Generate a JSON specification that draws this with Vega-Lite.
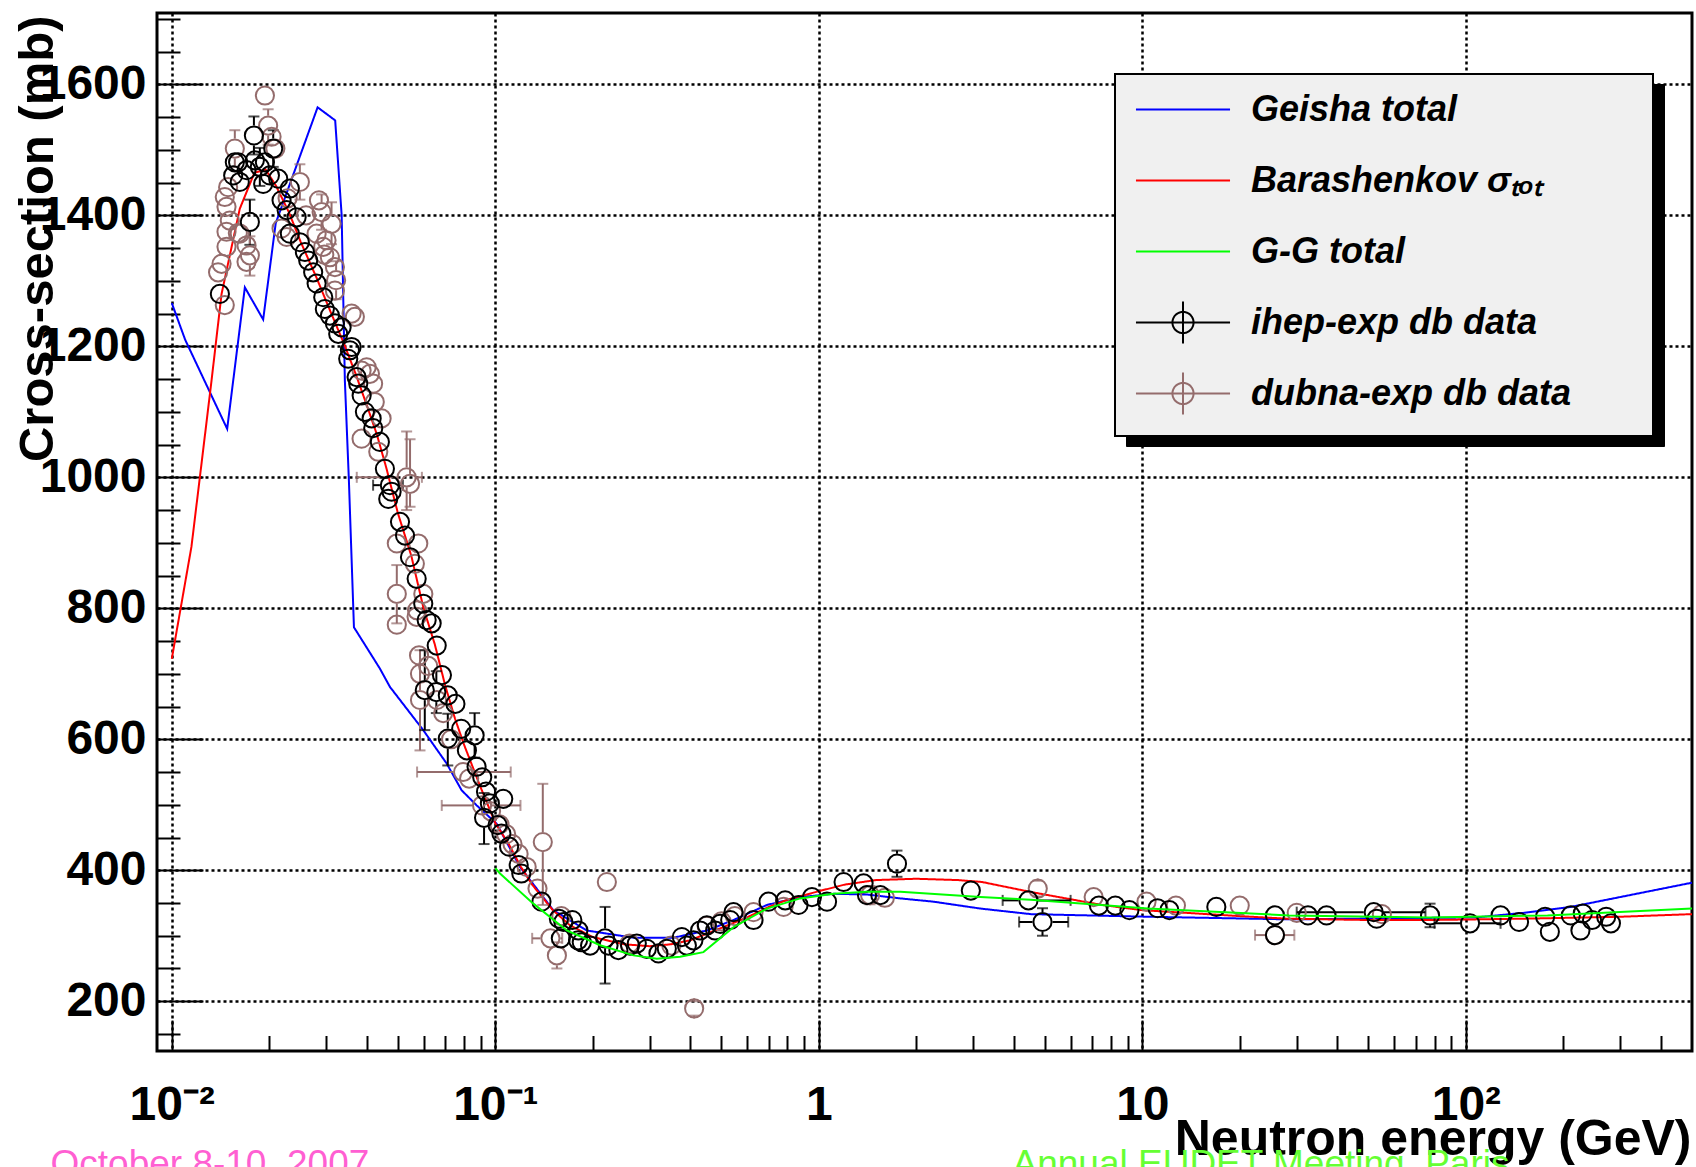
{
  "$schema": "https://vega.github.io/schema/vega-lite/v6.json",
  "width": 1535,
  "height": 1038,
  "autosize": {"type": "none"},
  "padding": {"left": 157, "top": 13, "right": 4, "bottom": 116},
  "config": {
    "view": {"stroke": "#000000", "strokeWidth": 3},
    "font": "Liberation Sans"
  },
  "datasets": {
    "curves": [
      {"s":"geisha","e":0.01,"v":1266},{"s":"geisha","e":0.011,"v":1210},{"s":"geisha","e":0.01483,"v":1074},{"s":"geisha","e":0.01682,"v":1290},{"s":"geisha","e":0.01916,"v":1241},{"s":"geisha","e":0.02095,"v":1388},{"s":"geisha","e":0.02823,"v":1565},{"s":"geisha","e":0.03199,"v":1545},{"s":"geisha","e":0.0335,"v":1400},{"s":"geisha","e":0.03427,"v":1148},{"s":"geisha","e":0.03527,"v":995},{"s":"geisha","e":0.03656,"v":771},{"s":"geisha","e":0.04397,"v":708},{"s":"geisha","e":0.04723,"v":680},{"s":"geisha","e":0.05987,"v":614},{"s":"geisha","e":0.07073,"v":563},{"s":"geisha","e":0.0787,"v":522},{"s":"geisha","e":0.0876,"v":499},{"s":"geisha","e":0.101,"v":471},{"s":"geisha","e":0.1192,"v":405},{"s":"geisha","e":0.1511,"v":339},{"s":"geisha","e":0.1918,"v":308},{"s":"geisha","e":0.2673,"v":297},{"s":"geisha","e":0.3553,"v":297},{"s":"geisha","e":0.4507,"v":308},{"s":"geisha","e":0.5447,"v":324},{"s":"geisha","e":0.6911,"v":347},{"s":"geisha","e":0.8759,"v":359},{"s":"geisha","e":1.11,"v":364},{"s":"geisha","e":1.409,"v":363},{"s":"geisha","e":1.786,"v":357},{"s":"geisha","e":2.264,"v":352},{"s":"geisha","e":3.157,"v":341.5},{"s":"geisha","e":4.52,"v":333},{"s":"geisha","e":10.4,"v":329},{"s":"geisha","e":28.4,"v":325},{"s":"geisha","e":108,"v":328},{"s":"geisha","e":151,"v":335},{"s":"geisha","e":211,"v":344},{"s":"geisha","e":500,"v":381},
      {"s":"bar","e":0.01,"v":723},{"s":"bar","e":0.0115,"v":894},{"s":"bar","e":0.01221,"v":1000},{"s":"bar","e":0.01327,"v":1148},{"s":"bar","e":0.01425,"v":1280},{"s":"bar","e":0.01622,"v":1410},{"s":"bar","e":0.018,"v":1465},{"s":"bar","e":0.0195,"v":1470},{"s":"bar","e":0.021,"v":1445},{"s":"bar","e":0.023,"v":1405},{"s":"bar","e":0.025,"v":1360},{"s":"bar","e":0.028,"v":1305},{"s":"bar","e":0.031,"v":1252},{"s":"bar","e":0.034,"v":1205},{"s":"bar","e":0.037,"v":1158},{"s":"bar","e":0.04,"v":1111},{"s":"bar","e":0.043,"v":1066},{"s":"bar","e":0.046,"v":1015},{"s":"bar","e":0.05,"v":945},{"s":"bar","e":0.055,"v":880},{"s":"bar","e":0.06,"v":800},{"s":"bar","e":0.065,"v":745},{"s":"bar","e":0.07,"v":682},{"s":"bar","e":0.075,"v":632},{"s":"bar","e":0.08,"v":592},{"s":"bar","e":0.09,"v":527},{"s":"bar","e":0.1,"v":472},{"s":"bar","e":0.11,"v":440},{"s":"bar","e":0.12,"v":405},{"s":"bar","e":0.13,"v":378},{"s":"bar","e":0.15,"v":340},{"s":"bar","e":0.17,"v":316},{"s":"bar","e":0.2,"v":298},{"s":"bar","e":0.25,"v":287},{"s":"bar","e":0.3,"v":284},{"s":"bar","e":0.35,"v":287},{"s":"bar","e":0.4,"v":293},{"s":"bar","e":0.5,"v":312},{"s":"bar","e":0.6,"v":328},{"s":"bar","e":0.7,"v":344},{"s":"bar","e":0.8,"v":355},{"s":"bar","e":1.0,"v":368},{"s":"bar","e":1.2,"v":378},{"s":"bar","e":1.5,"v":385},{"s":"bar","e":2.0,"v":387},{"s":"bar","e":2.7,"v":385},{"s":"bar","e":3.2,"v":382},{"s":"bar","e":4.5,"v":367},{"s":"bar","e":7.5,"v":347},{"s":"bar","e":10,"v":339},{"s":"bar","e":20,"v":330},{"s":"bar","e":28,"v":326},{"s":"bar","e":50,"v":324},{"s":"bar","e":77,"v":324},{"s":"bar","e":150,"v":326},{"s":"bar","e":300,"v":329},{"s":"bar","e":500,"v":333},
      {"s":"gg","e":0.1,"v":403},{"s":"gg","e":0.1034,"v":395},{"s":"gg","e":0.1311,"v":349},{"s":"gg","e":0.1663,"v":308},{"s":"gg","e":0.2108,"v":285.5},{"s":"gg","e":0.2673,"v":270},{"s":"gg","e":0.3157,"v":265},{"s":"gg","e":0.3726,"v":268},{"s":"gg","e":0.4398,"v":275},{"s":"gg","e":0.5447,"v":313},{"s":"gg","e":0.6911,"v":341.5},{"s":"gg","e":0.876,"v":357},{"s":"gg","e":1.11,"v":364},{"s":"gg","e":1.409,"v":367},{"s":"gg","e":1.786,"v":367},{"s":"gg","e":3.157,"v":359},{"s":"gg","e":4.52,"v":355},{"s":"gg","e":10.4,"v":341.5},{"s":"gg","e":28.4,"v":331},{"s":"gg","e":77.5,"v":328},{"s":"gg","e":178.8,"v":331},{"s":"gg","e":500,"v":341.5}
    ],
    "points": [
      {"s":"dubna","e":0.0139,"v":1313},{"s":"dubna","e":0.01425,"v":1326},{"s":"dubna","e":0.01458,"v":1263},{"s":"dubna","e":0.01476,"v":1352},{"s":"dubna","e":0.01476,"v":1375},{"s":"dubna","e":0.01511,"v":1392},{"s":"dubna","e":0.01476,"v":1413},{"s":"dubna","e":0.01458,"v":1428},{"s":"dubna","e":0.01493,"v":1443},
      {"s":"dubna","e":0.01566,"v":1502,"vlo":1474,"vhi":1530},{"s":"dubna","e":0.016,"v":1373},{"s":"dubna","e":0.01622,"v":1372},{"s":"dubna","e":0.01702,"v":1354},{"s":"dubna","e":0.01743,"v":1339,"vlo":1308,"vhi":1368},{"s":"dubna","e":0.01702,"v":1329},
      {"s":"dubna","e":0.0194,"v":1583},{"s":"dubna","e":0.01985,"v":1537,"vlo":1508,"vhi":1562},{"s":"dubna","e":0.02034,"v":1520},{"s":"dubna","e":0.0209,"v":1502},{"s":"dubna","e":0.0228,"v":1426},{"s":"dubna","e":0.02184,"v":1380},{"s":"dubna","e":0.02264,"v":1367},
      {"s":"dubna","e":0.02488,"v":1451,"vlo":1424,"vhi":1478},{"s":"dubna","e":0.026,"v":1400},{"s":"dubna","e":0.0285,"v":1423},{"s":"dubna","e":0.02904,"v":1405,"vlo":1378,"vhi":1432},{"s":"dubna","e":0.03117,"v":1387,"vlo":1356,"vhi":1420},{"s":"dubna","e":0.02803,"v":1372},{"s":"dubna","e":0.03008,"v":1362},{"s":"dubna","e":0.02938,"v":1352},{"s":"dubna","e":0.0296,"v":1340},{"s":"dubna","e":0.0308,"v":1336},{"s":"dubna","e":0.03193,"v":1321},{"s":"dubna","e":0.0322,"v":1301,"vlo":1272,"vhi":1330},{"s":"dubna","e":0.03193,"v":1285},
      {"s":"dubna","e":0.03596,"v":1250},{"s":"dubna","e":0.0368,"v":1245},{"s":"dubna","e":0.0386,"v":1163},{"s":"dubna","e":0.04096,"v":1158},{"s":"dubna","e":0.04002,"v":1168},{"s":"dubna","e":0.0419,"v":1143},{"s":"dubna","e":0.0424,"v":1115},{"s":"dubna","e":0.04451,"v":1090},{"s":"dubna","e":0.0386,"v":1059},{"s":"dubna","e":0.04347,"v":1039},
      {"s":"dubna","e":0.0532,"v":1000,"vlo":950,"vhi":1070,"elo":0.0373,"ehi":0.0593},{"s":"dubna","e":0.0545,"v":990,"vlo":955,"vhi":1058},{"s":"dubna","e":0.0496,"v":899},{"s":"dubna","e":0.05779,"v":899},{"s":"dubna","e":0.0564,"v":868},{"s":"dubna","e":0.0496,"v":822,"vlo":777,"vhi":866},{"s":"dubna","e":0.0599,"v":822},{"s":"dubna","e":0.0571,"v":787},{"s":"dubna","e":0.0496,"v":775},{"s":"dubna","e":0.05729,"v":797},{"s":"dubna","e":0.0581,"v":728},{"s":"dubna","e":0.0585,"v":700},{"s":"dubna","e":0.0585,"v":660,"vlo":583,"vhi":736},
      {"s":"dubna","e":0.062,"v":712},{"s":"dubna","e":0.066,"v":660},{"s":"dubna","e":0.069,"v":640},{"s":"dubna","e":0.073,"v":600},{"s":"dubna","e":0.0795,"v":550,"elo":0.0573,"ehi":0.1116},{"s":"dubna","e":0.083,"v":540},{"s":"dubna","e":0.091,"v":499,"elo":0.0683,"ehi":0.1196},{"s":"dubna","e":0.097,"v":490},{"s":"dubna","e":0.103,"v":470},{"s":"dubna","e":0.108,"v":455},{"s":"dubna","e":0.113,"v":440},{"s":"dubna","e":0.118,"v":425},{"s":"dubna","e":0.125,"v":405},
      {"s":"dubna","e":0.1402,"v":443,"vlo":347,"vhi":532},{"s":"dubna","e":0.135,"v":372},{"s":"dubna","e":0.148,"v":296,"elo":0.13,"ehi":0.161},{"s":"dubna","e":0.155,"v":270,"vlo":250,"vhi":290},{"s":"dubna","e":0.16,"v":330},{"s":"dubna","e":0.2212,"v":382},{"s":"dubna","e":0.4117,"v":189,"vlo":178,"vhi":200},{"s":"dubna","e":0.26,"v":288},{"s":"dubna","e":0.35,"v":285},{"s":"dubna","e":0.45,"v":315},{"s":"dubna","e":0.5,"v":322},{"s":"dubna","e":0.55,"v":330},{"s":"dubna","e":0.628,"v":336},{"s":"dubna","e":0.778,"v":344},
      {"s":"dubna","e":1.44,"v":362,"vlo":348,"vhi":376},{"s":"dubna","e":1.6,"v":358},{"s":"dubna","e":4.75,"v":372,"vlo":360,"vhi":384},{"s":"dubna","e":7.07,"v":359},{"s":"dubna","e":10.3,"v":352},{"s":"dubna","e":12.7,"v":346},{"s":"dubna","e":20.0,"v":346},{"s":"dubna","e":25.7,"v":301,"elo":22.3,"ehi":29.5},{"s":"dubna","e":30,"v":335},{"s":"dubna","e":55,"v":333},
      {"s":"ihep","e":0.01408,"v":1280},{"s":"ihep","e":0.01548,"v":1461},{"s":"ihep","e":0.01566,"v":1481},{"s":"ihep","e":0.01603,"v":1481},{"s":"ihep","e":0.01622,"v":1451},{"s":"ihep","e":0.01702,"v":1469},{"s":"ihep","e":0.01743,"v":1390,"vlo":1355,"vhi":1424},{"s":"ihep","e":0.01794,"v":1522,"vlo":1493,"vhi":1551},{"s":"ihep","e":0.01806,"v":1484},{"s":"ihep","e":0.01871,"v":1474,"vlo":1445,"vhi":1503},{"s":"ihep","e":0.01916,"v":1448},{"s":"ihep","e":0.0194,"v":1481},{"s":"ihep","e":0.0201,"v":1461},{"s":"ihep","e":0.02058,"v":1502,"vlo":1474,"vhi":1530},{"s":"ihep","e":0.02132,"v":1456},{"s":"ihep","e":0.02184,"v":1423},{"s":"ihep","e":0.02264,"v":1408},{"s":"ihep","e":0.02317,"v":1441},{"s":"ihep","e":0.02317,"v":1372},{"s":"ihep","e":0.02431,"v":1397},{"s":"ihep","e":0.02488,"v":1359},{"s":"ihep","e":0.02579,"v":1344},{"s":"ihep","e":0.0264,"v":1331},{"s":"ihep","e":0.02735,"v":1313},{"s":"ihep","e":0.02803,"v":1296},{"s":"ihep","e":0.02938,"v":1275},{"s":"ihep","e":0.02972,"v":1257},{"s":"ihep","e":0.03082,"v":1247},{"s":"ihep","e":0.03193,"v":1235},{"s":"ihep","e":0.03269,"v":1219},{"s":"ihep","e":0.03349,"v":1229},{"s":"ihep","e":0.03553,"v":1194},{"s":"ihep","e":0.03596,"v":1199},{"s":"ihep","e":0.0351,"v":1181},{"s":"ihep","e":0.03726,"v":1153},{"s":"ihep","e":0.0377,"v":1143},{"s":"ihep","e":0.03862,"v":1125},{"s":"ihep","e":0.03953,"v":1100},{"s":"ihep","e":0.04147,"v":1090},{"s":"ihep","e":0.04194,"v":1075},{"s":"ihep","e":0.04397,"v":1054},{"s":"ihep","e":0.04557,"v":1013},
      {"s":"ihep","e":0.04722,"v":988,"elo":0.0419,"ehi":0.0518},{"s":"ihep","e":0.04779,"v":978},{"s":"ihep","e":0.04667,"v":967},{"s":"ihep","e":0.05074,"v":932},{"s":"ihep","e":0.05259,"v":911},{"s":"ihep","e":0.05448,"v":878},{"s":"ihep","e":0.05713,"v":845},{"s":"ihep","e":0.05987,"v":807},{"s":"ihep","e":0.06134,"v":782},{"s":"ihep","e":0.06357,"v":777},{"s":"ihep","e":0.06589,"v":743},{"s":"ihep","e":0.06839,"v":698},{"s":"ihep","e":0.06053,"v":675,"vlo":614,"vhi":736},{"s":"ihep","e":0.06572,"v":672,"vlo":640,"vhi":704},{"s":"ihep","e":0.07131,"v":667},{"s":"ihep","e":0.07528,"v":654},{"s":"ihep","e":0.0713,"v":601,"vlo":560,"vhi":639},{"s":"ihep","e":0.07844,"v":616},{"s":"ihep","e":0.0863,"v":606,"vlo":572,"vhi":640},{"s":"ihep","e":0.08169,"v":583},{"s":"ihep","e":0.0875,"v":558},{"s":"ihep","e":0.0911,"v":542},{"s":"ihep","e":0.0936,"v":520},{"s":"ihep","e":0.1058,"v":509},{"s":"ihep","e":0.0962,"v":502},{"s":"ihep","e":0.0923,"v":480,"vlo":440,"vhi":518},{"s":"ihep","e":0.1016,"v":469},{"s":"ihep","e":0.1044,"v":456},{"s":"ihep","e":0.1103,"v":436},{"s":"ihep","e":0.1181,"v":408},{"s":"ihep","e":0.1203,"v":395},{"s":"ihep","e":0.1389,"v":352},{"s":"ihep","e":0.1572,"v":326},{"s":"ihep","e":0.1594,"v":296},{"s":"ihep","e":0.173,"v":324},{"s":"ihep","e":0.1623,"v":321},{"s":"ihep","e":0.1802,"v":293},{"s":"ihep","e":0.1806,"v":308},{"s":"ihep","e":0.185,"v":290},{"s":"ihep","e":0.1963,"v":285},
      {"s":"ihep","e":0.2184,"v":296,"vlo":227,"vhi":344},{"s":"ihep","e":0.2238,"v":285},{"s":"ihep","e":0.2401,"v":278},{"s":"ihep","e":0.261,"v":285},{"s":"ihep","e":0.2737,"v":288},{"s":"ihep","e":0.294,"v":280},{"s":"ihep","e":0.3193,"v":273},{"s":"ihep","e":0.3389,"v":280},{"s":"ihep","e":0.3771,"v":298},{"s":"ihep","e":0.3909,"v":285},{"s":"ihep","e":0.4096,"v":293},{"s":"ihep","e":0.4296,"v":308},{"s":"ihep","e":0.4507,"v":316},{"s":"ihep","e":0.4782,"v":308},{"s":"ihep","e":0.4955,"v":318},{"s":"ihep","e":0.5321,"v":324},{"s":"ihep","e":0.5447,"v":336},{"s":"ihep","e":0.6282,"v":324},{"s":"ihep","e":0.699,"v":352},{"s":"ihep","e":0.787,"v":354},{"s":"ihep","e":0.8654,"v":347},{"s":"ihep","e":0.9522,"v":359},{"s":"ihep","e":1.06,"v":352},{"s":"ihep","e":1.1925,"v":382},{"s":"ihep","e":1.375,"v":380},{"s":"ihep","e":1.409,"v":362},{"s":"ihep","e":1.549,"v":362},{"s":"ihep","e":1.744,"v":410,"vlo":390,"vhi":430},{"s":"ihep","e":2.95,"v":369},
      {"s":"ihep","e":4.446,"v":354,"elo":3.7,"ehi":6.0},{"s":"ihep","e":4.913,"v":321,"vlo":300,"vhi":342,"elo":4.16,"ehi":5.9},{"s":"ihep","e":7.34,"v":346},{"s":"ihep","e":8.25,"v":346},{"s":"ihep","e":9.12,"v":339},{"s":"ihep","e":11.14,"v":342},{"s":"ihep","e":12.12,"v":339},{"s":"ihep","e":16.93,"v":344},{"s":"ihep","e":25.7,"v":331},{"s":"ihep","e":25.7,"v":301},{"s":"ihep","e":32.5,"v":331},{"s":"ihep","e":37.1,"v":331},{"s":"ihep","e":51.9,"v":336,"elo":30,"ehi":75},{"s":"ihep","e":53,"v":326},{"s":"ihep","e":77.5,"v":331,"vlo":313,"vhi":349},{"s":"ihep","e":103,"v":319,"elo":80,"ehi":128},{"s":"ihep","e":128,"v":331},{"s":"ihep","e":146,"v":321},{"s":"ihep","e":175.8,"v":329},{"s":"ihep","e":181.8,"v":306},{"s":"ihep","e":211,"v":331},{"s":"ihep","e":226,"v":308},{"s":"ihep","e":229.8,"v":334},{"s":"ihep","e":245.5,"v":324},{"s":"ihep","e":271.5,"v":329},{"s":"ihep","e":280.8,"v":319}
    ]
  },
  "resolve": {"scale": {"x": "shared", "y": "shared"}, "axis": {"x": "independent", "y": "independent"}},
  "layer": [
    {
      "data": {"name": "curves"},
      "transform": [{"filter": "datum.s === 'geisha' || datum.s === 'bar'"}],
      "mark": {"type": "line", "strokeWidth": 2},
      "encoding": {
        "x": {
          "field": "e", "type": "quantitative",
          "scale": {"type": "log", "domain": [0.009, 500], "nice": false},
          "axis": {
            "orient": "bottom",
            "values": [0.01,0.02,0.03,0.04,0.05,0.06,0.07,0.08,0.09,0.1,0.2,0.3,0.4,0.5,0.6,0.7,0.8,0.9,1,2,3,4,5,6,7,8,9,10,20,30,40,50,60,70,80,90,100,200,300,400],
            "labelExpr": "datum.value == 0.01 ? '10⁻²' : datum.value == 0.1 ? '10⁻¹' : datum.value == 1 ? '1' : datum.value == 10 ? '10' : datum.value == 100 ? '10²' : ''",
            "labelFont": "Liberation Sans", "labelFontSize": 48, "labelFontWeight": "bold", "labelColor": "#000000",
            "labelPadding": 99, "labelBaseline": "alphabetic", "labelAlign": "center",
            "labelFlush": false, "labelOverlap": false, "labelBound": false,
            "domain": false, "ticks": true, "tickColor": "#000000", "tickWidth": 2,
            "tickSize": {"condition": {"test": "indexof([0.01,0.1,1,10,100], datum.value) >= 0", "value": -31}, "value": -15.5},
            "grid": true, "gridColor": "#000000", "gridDash": [3, 3], "gridWidth": 2.5,
            "gridOpacity": {"condition": {"test": "indexof([0.01,0.1,1,10,100], datum.value) >= 0", "value": 1}, "value": 0},
            "title": "Neutron energy (GeV)",
            "titleFont": "Liberation Sans", "titleFontSize": 50, "titleFontWeight": "bold", "titleColor": "#000000",
            "titleX": 1534, "titleY": 103, "titleAlign": "right", "titleBaseline": "alphabetic"
          }
        },
        "y": {
          "field": "v", "type": "quantitative",
          "scale": {"domain": [124, 1709], "nice": false, "zero": false},
          "axis": {
            "orient": "left",
            "values": [150,200,250,300,350,400,450,500,550,600,650,700,750,800,850,900,950,1000,1050,1100,1150,1200,1250,1300,1350,1400,1450,1500,1550,1600,1650,1700],
            "format": "d",
            "labelExpr": "datum.value % 200 === 0 ? datum.label : ''",
            "labelFont": "Liberation Sans", "labelFontSize": 48, "labelFontWeight": "bold", "labelColor": "#000000",
            "labelPadding": 57, "labelOverlap": false, "labelFlush": false, "labelBound": false,
            "domain": false, "ticks": true, "tickColor": "#000000", "tickWidth": 2,
            "tickSize": {"condition": {"test": "datum.value % 200 === 0", "value": -46}, "value": -23},
            "grid": true, "gridColor": "#000000", "gridDash": [3, 3], "gridWidth": 2.5,
            "gridOpacity": {"condition": {"test": "datum.value % 200 === 0", "value": 1}, "value": 0},
            "title": "Cross-section (mb)",
            "titleFont": "Liberation Sans", "titleFontSize": 49, "titleFontWeight": "bold", "titleColor": "#000000",
            "titleAngle": -90, "titleX": -105, "titleY": 2, "titleAlign": "right", "titleBaseline": "alphabetic"
          }
        },
        "color": {
          "field": "s", "type": "nominal",
          "scale": {"domain": ["geisha", "bar", "gg", "ihep", "dubna"], "range": ["#0000ff", "#ff0000", "#00ff00", "#000000", "#946c6c"]},
          "legend": {
            "orient": "none", "legendX": 958, "legendY": 61, "title": null,
            "fillColor": "#f0f0f0", "strokeColor": "#000000",
            "padding": 17.5, "rowPadding": 21, "symbolOffset": 32.5, "labelOffset": 50,
            "symbolSize": 1024, "symbolStrokeWidth": 2, "symbolFillColor": "transparent",
            "labelFont": "Liberation Sans", "labelFontSize": 36, "labelFontStyle": "italic", "labelFontWeight": "bold", "labelColor": "#000000", "labelLimit": 2000,
            "labelExpr": "datum.value === 'geisha' ? 'Geisha total' : datum.value === 'bar' ? 'Barashenkov σₜₒₜ' : datum.value === 'gg' ? 'G-G total' : datum.value === 'ihep' ? 'ihep-exp db data' : 'dubna-exp db data'",
            "zindex": 2,
            "encode": {
              "legend": {"update": {"strokeWidth": {"value": 2}}},
              "symbols": {"update": {
                "shape": {"signal": "datum.value === 'ihep' || datum.value === 'dubna' ? 'M-2.94,0H2.94M0,-1.31V1.31M0.66,0A0.66,0.66,0,1,1,-0.66,0A0.66,0.66,0,1,1,0.66,0M28.03,0' : 'M-2.94,0H2.94M0,-1.31M0,1.31M28.03,0'"},
                "fill": {"value": "transparent"},
                "fillOpacity": {"value": 0},
                "stroke": {"scale": "color", "field": "value"},
                "strokeWidth": {"value": 2},
                "strokeDash": {"value": [1, 0]},
                "opacity": {"value": 1},
                "size": {"value": 1024}
              }}
            }
          }
        },
        "strokeDash": {
          "field": "s", "type": "nominal",
          "scale": {"domain": ["dubna", "ihep", "gg", "bar", "geisha"], "range": [[1, 0], [1, 0], [1, 0], [1, 0], [1, 0]]},
          "legend": {
            "orient": "none", "legendX": 969, "legendY": 71, "title": null,
            "fillColor": "#000000", "strokeColor": "#000000",
            "padding": 17.5, "rowPadding": 21, "symbolOffset": 32.5, "labelOffset": 50,
            "symbolSize": 1024, "symbolStrokeWidth": 2,
            "labelFont": "Liberation Sans", "labelFontSize": 36, "labelFontStyle": "italic", "labelFontWeight": "bold", "labelColor": "#000000", "labelLimit": 2000,
            "labelExpr": "datum.value === 'geisha' ? 'Geisha total' : datum.value === 'bar' ? 'Barashenkov σₜₒₜ' : datum.value === 'gg' ? 'G-G total' : datum.value === 'ihep' ? 'ihep-exp db data' : 'dubna-exp db data'",
            "zindex": 1,
            "encode": {
              "symbols": {"update": {
                "shape": {"value": "M-2.94,0H2.94M0,-1.31V1.31M0.66,0A0.66,0.66,0,1,1,-0.66,0A0.66,0.66,0,1,1,0.66,0M28.03,0"},
                "fill": {"value": "transparent"},
                "stroke": {"value": "#000000"},
                "strokeWidth": {"value": 2},
                "opacity": {"value": 1},
                "size": {"value": 1024}
              }}
            }
          }
        }
      }
    },
    {
      "data": {"name": "points"},
      "transform": [{"filter": "isValid(datum.vlo)"}],
      "mark": {"type": "rule", "strokeWidth": 2, "y2Offset": 10},
      "encoding": {
        "x": {"field": "e", "type": "quantitative", "scale": {"type": "log", "domain": [0.009, 500], "nice": false}, "axis": null},
        "y": {"field": "vlo", "type": "quantitative", "scale": {"domain": [124, 1709], "nice": false, "zero": false}, "axis": null},
        "y2": {"field": "v"},
        "color": {"field": "s", "type": "nominal"}
      }
    },
    {
      "data": {"name": "points"},
      "transform": [{"filter": "isValid(datum.vhi)"}],
      "mark": {"type": "rule", "strokeWidth": 2, "yOffset": -10},
      "encoding": {
        "x": {"field": "e", "type": "quantitative", "scale": {"type": "log", "domain": [0.009, 500], "nice": false}, "axis": null},
        "y": {"field": "v", "type": "quantitative", "scale": {"domain": [124, 1709], "nice": false, "zero": false}, "axis": null},
        "y2": {"field": "vhi"},
        "color": {"field": "s", "type": "nominal"}
      }
    },
    {
      "data": {"name": "points"},
      "transform": [{"filter": "isValid(datum.elo)"}],
      "mark": {"type": "rule", "strokeWidth": 2, "x2Offset": -10},
      "encoding": {
        "x": {"field": "elo", "type": "quantitative", "scale": {"type": "log", "domain": [0.009, 500], "nice": false}, "axis": null},
        "x2": {"field": "e"},
        "y": {"field": "v", "type": "quantitative", "scale": {"domain": [124, 1709], "nice": false, "zero": false}, "axis": null},
        "color": {"field": "s", "type": "nominal"}
      }
    },
    {
      "data": {"name": "points"},
      "transform": [{"filter": "isValid(datum.ehi)"}],
      "mark": {"type": "rule", "strokeWidth": 2, "xOffset": 10},
      "encoding": {
        "x": {"field": "e", "type": "quantitative", "scale": {"type": "log", "domain": [0.009, 500], "nice": false}, "axis": null},
        "x2": {"field": "ehi"},
        "y": {"field": "v", "type": "quantitative", "scale": {"domain": [124, 1709], "nice": false, "zero": false}, "axis": null},
        "color": {"field": "s", "type": "nominal"}
      }
    },
    {
      "data": {"name": "points"},
      "transform": [
        {"fold": ["vlo", "vhi"], "as": ["end", "cap"]},
        {"filter": "isValid(datum.cap)"}
      ],
      "mark": {"type": "tick", "orient": "horizontal", "size": 11, "thickness": 2},
      "encoding": {
        "x": {"field": "e", "type": "quantitative", "scale": {"type": "log", "domain": [0.009, 500], "nice": false}, "axis": null},
        "y": {"field": "cap", "type": "quantitative", "scale": {"domain": [124, 1709], "nice": false, "zero": false}, "axis": null},
        "color": {"field": "s", "type": "nominal"}
      }
    },
    {
      "data": {"name": "points"},
      "transform": [
        {"fold": ["elo", "ehi"], "as": ["end", "cap"]},
        {"filter": "isValid(datum.cap)"}
      ],
      "mark": {"type": "tick", "orient": "vertical", "size": 11, "thickness": 2},
      "encoding": {
        "x": {"field": "cap", "type": "quantitative", "scale": {"type": "log", "domain": [0.009, 500], "nice": false}, "axis": null},
        "y": {"field": "v", "type": "quantitative", "scale": {"domain": [124, 1709], "nice": false, "zero": false}, "axis": null},
        "color": {"field": "s", "type": "nominal"}
      }
    },
    {
      "data": {"name": "points"},
      "mark": {"type": "point", "shape": "circle", "filled": false, "size": 330, "strokeWidth": 2, "opacity": 1},
      "encoding": {
        "x": {"field": "e", "type": "quantitative", "scale": {"type": "log", "domain": [0.009, 500], "nice": false}, "axis": null},
        "y": {"field": "v", "type": "quantitative", "scale": {"domain": [124, 1709], "nice": false, "zero": false}, "axis": null},
        "color": {"field": "s", "type": "nominal"}
      }
    },
    {
      "data": {"name": "curves"},
      "transform": [{"filter": "datum.s === 'gg'"}],
      "mark": {"type": "line", "strokeWidth": 2},
      "encoding": {
        "x": {"field": "e", "type": "quantitative", "scale": {"type": "log", "domain": [0.009, 500], "nice": false}, "axis": null},
        "y": {"field": "v", "type": "quantitative", "scale": {"domain": [124, 1709], "nice": false, "zero": false}, "axis": null},
        "color": {"field": "s", "type": "nominal"}
      }
    },
    {
      "data": {"values": []},
      "mark": {"type": "rule"},
      "encoding": {
        "x": {
          "field": "e", "type": "quantitative",
          "scale": {"type": "log", "domain": [0.009, 500], "nice": false},
          "axis": {
            "orient": "bottom", "labels": false, "ticks": false, "domain": false, "grid": false,
            "title": "Annual EUDET Meeting, Paris",
            "titleFont": "Liberation Sans", "titleFontSize": 37, "titleFontWeight": "normal", "titleColor": "#66ff33",
            "titleX": 855, "titleY": 124.5, "titleAlign": "left", "titleBaseline": "alphabetic"
          }
        }
      }
    },
    {
      "data": {"values": []},
      "mark": {"type": "rule"},
      "encoding": {
        "x": {
          "field": "e", "type": "quantitative",
          "scale": {"type": "log", "domain": [0.009, 500], "nice": false},
          "axis": {
            "orient": "bottom", "labels": false, "ticks": false, "domain": false, "grid": false,
            "title": "October 8-10, 2007",
            "titleFont": "Liberation Sans", "titleFontSize": 37, "titleFontWeight": "normal", "titleColor": "#ff5fd2",
            "titleX": -107, "titleY": 124.5, "titleAlign": "left", "titleBaseline": "alphabetic"
          }
        }
      }
    }
  ]
}
